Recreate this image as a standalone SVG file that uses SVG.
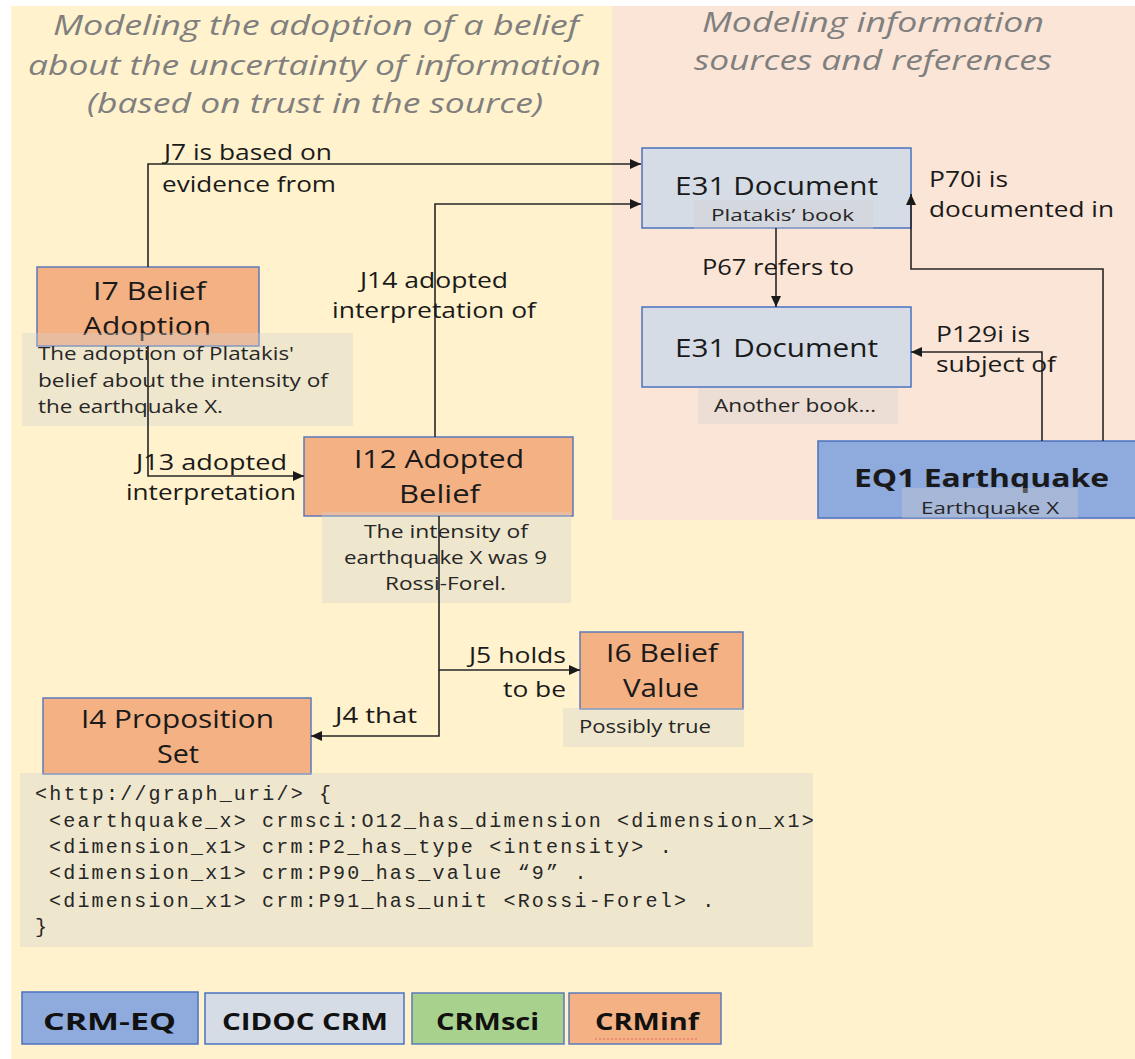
<svg xmlns="http://www.w3.org/2000/svg" width="1135" height="1059" viewBox="0 0 1135 1059">
<style>
text{font-family:"Open Sans","Liberation Sans",sans-serif;fill:#1a1a1a}
.title{font-style:italic;font-size:28px;fill:#7f7f7f}
.lbl{font-size:25px}
.elbl{font-size:22px}
.desc{font-size:18px;fill:#262626}
.sub{font-size:17px;fill:#262626}
.code{font-family:"Liberation Mono",monospace;font-size:20px;letter-spacing:2.2px;fill:#262626}
.leg{font-size:24px;font-weight:bold;fill:#111}
.inf{fill:#f4b183;stroke:#5b7abb;stroke-width:1.5}
.doc{fill:#d6dce5;stroke:#4a72c0;stroke-width:1.5}
.eq{fill:#8faadc;stroke:#4a72c0;stroke-width:1.5}
.sci{fill:#a9d18e;stroke:#5b7abb;stroke-width:1.5}
.ov{fill:#d0d0d0;fill-opacity:0.35}
.con{fill:none;stroke:#262626;stroke-width:1.6;marker-end:url(#arr)}
</style>
<defs>
<marker id="arr" markerUnits="userSpaceOnUse" markerWidth="11" markerHeight="10" refX="11" refY="5" orient="auto">
<path d="M0,0 L11,5 L0,10 z" fill="#1a1a1a"/>
</marker>
</defs>
<rect x="11" y="6" width="1124" height="1053" fill="#fff2cc"/>
<rect x="612" y="6" width="523" height="514" fill="#fbe5d6"/>

<g id="titles">
<text class="title" x="53" y="35" textLength="526" lengthAdjust="spacingAndGlyphs">Modeling the adoption of a belief</text>
<text class="title" x="28" y="75" textLength="573" lengthAdjust="spacingAndGlyphs">about the uncertainty of information</text>
<text class="title" x="87" y="113" textLength="456" lengthAdjust="spacingAndGlyphs">(based on trust in the source)</text>
<text class="title" x="702" y="32" textLength="342" lengthAdjust="spacingAndGlyphs">Modeling information</text>
<text class="title" x="694" y="70" textLength="358" lengthAdjust="spacingAndGlyphs">sources and references</text>
</g>

<g id="e31-platakis">
<rect class="doc" x="642" y="148" width="269" height="80"/>
<text class="lbl" x="675" y="195" font-size="24" textLength="203" lengthAdjust="spacingAndGlyphs">E31 Document</text>
<rect class="ov" x="694" y="200" width="179" height="29"/>
<text class="sub" x="711" y="221" textLength="143" lengthAdjust="spacingAndGlyphs">Platakis’ book</text>
</g>

<g id="e31-another">
<rect class="doc" x="642" y="307" width="269" height="80"/>
<text class="lbl" x="675" y="357" font-size="24" textLength="203" lengthAdjust="spacingAndGlyphs">E31 Document</text>
<rect class="ov" x="698" y="388" width="200" height="36"/>
<text class="desc" x="714" y="412" textLength="162" lengthAdjust="spacingAndGlyphs">Another book…</text>
</g>

<g id="eq1">
<rect class="eq" x="818" y="441" width="330" height="77"/>
<text class="lbl" x="854" y="487" font-weight="bold" textLength="255" lengthAdjust="spacingAndGlyphs">EQ1 Earthquake</text>
<rect class="ov" x="902" y="488" width="176" height="30"/>
<text class="sub" x="921" y="514" textLength="138" lengthAdjust="spacingAndGlyphs">Earthquake X</text>
</g>

<g id="i7">
<rect class="inf" x="37" y="267" width="222" height="79"/>
<text class="lbl" x="93" y="300" textLength="113" lengthAdjust="spacingAndGlyphs">I7 Belief</text>
<text class="lbl" x="83" y="335" textLength="128" lengthAdjust="spacingAndGlyphs">Adoption</text>
<rect class="ov" x="22" y="333" width="331" height="93"/>
<text class="desc" x="38" y="360" textLength="256" lengthAdjust="spacingAndGlyphs">The adoption of Platakis'</text>
<text class="desc" x="38" y="387" textLength="290" lengthAdjust="spacingAndGlyphs">belief about the intensity of</text>
<text class="desc" x="38" y="413" textLength="185" lengthAdjust="spacingAndGlyphs">the earthquake X.</text>
</g>

<g id="i12">
<rect class="inf" x="304" y="437" width="269" height="79"/>
<text class="lbl" x="354" y="468" textLength="170" lengthAdjust="spacingAndGlyphs">I12 Adopted</text>
<text class="lbl" x="399" y="503" textLength="81" lengthAdjust="spacingAndGlyphs">Belief</text>
<rect class="ov" x="322" y="512" width="249" height="91"/>
<text class="desc" x="364" y="538" textLength="164" lengthAdjust="spacingAndGlyphs">The intensity of</text>
<text class="desc" x="344" y="564" textLength="203" lengthAdjust="spacingAndGlyphs">earthquake X was 9</text>
<text class="desc" x="385" y="590" textLength="121" lengthAdjust="spacingAndGlyphs">Rossi-Forel.</text>
</g>

<g id="i6">
<rect class="inf" x="580" y="632" width="163" height="77"/>
<text class="lbl" x="606" y="662" textLength="112" lengthAdjust="spacingAndGlyphs">I6 Belief</text>
<text class="lbl" x="623" y="697" textLength="76" lengthAdjust="spacingAndGlyphs">Value</text>
<rect class="ov" x="563" y="708" width="181" height="39"/>
<text class="desc" x="579" y="733" textLength="132" lengthAdjust="spacingAndGlyphs">Possibly true</text>
</g>

<g id="i4">
<rect class="inf" x="43" y="698" width="268" height="76"/>
<text class="lbl" x="81" y="728" textLength="193" lengthAdjust="spacingAndGlyphs">I4 Proposition</text>
<text class="lbl" x="157" y="763" textLength="42" lengthAdjust="spacingAndGlyphs">Set</text>
<rect class="ov" x="20" y="773" width="793" height="174"/>
<text class="code" x="35" y="800">&lt;http://graph_uri/&gt; {</text>
<text class="code" x="49" y="827">&lt;earthquake_x&gt; crmsci:O12_has_dimension &lt;dimension_x1&gt;</text>
<text class="code" x="49" y="853">&lt;dimension_x1&gt; crm:P2_has_type &lt;intensity&gt; .</text>
<text class="code" x="49" y="879">&lt;dimension_x1&gt; crm:P90_has_value “9” .</text>
<text class="code" x="49" y="907">&lt;dimension_x1&gt; crm:P91_has_unit &lt;Rossi-Forel&gt; .</text>
<text class="code" x="35" y="933">}</text>
</g>

<g id="connectors">
<path class="con" d="M148,267 V164 H641"/>
<path class="con" d="M435,437 V204 H641"/>
<path class="con" d="M148,346 V476 H304"/>
<path class="con" d="M776,228 V307"/>
<path class="con" d="M1103,441 V269 H911 V194"/>
<path class="con" d="M1042,441 V352 H911"/>
<path class="con" d="M439,516 V670 H580"/>
<path class="con" d="M439,670 V736 H311"/>
<text class="elbl" x="164" y="160" textLength="168" lengthAdjust="spacingAndGlyphs">J7 is based on</text>
<text class="elbl" x="162" y="192" textLength="174" lengthAdjust="spacingAndGlyphs">evidence from</text>
<text class="elbl" x="360" y="288" textLength="148" lengthAdjust="spacingAndGlyphs">J14 adopted</text>
<text class="elbl" x="332" y="318" textLength="204" lengthAdjust="spacingAndGlyphs">interpretation of</text>
<text class="elbl" x="136" y="470" textLength="151" lengthAdjust="spacingAndGlyphs">J13 adopted</text>
<text class="elbl" x="126" y="500" textLength="170" lengthAdjust="spacingAndGlyphs">interpretation</text>
<text class="elbl" x="702" y="275" textLength="152" lengthAdjust="spacingAndGlyphs">P67 refers to</text>
<text class="elbl" x="929" y="187" textLength="79" lengthAdjust="spacingAndGlyphs">P70i is</text>
<text class="elbl" x="929" y="217" textLength="185" lengthAdjust="spacingAndGlyphs">documented in</text>
<text class="elbl" x="936" y="342" textLength="94" lengthAdjust="spacingAndGlyphs">P129i is</text>
<text class="elbl" x="936" y="372" textLength="120" lengthAdjust="spacingAndGlyphs">subject of</text>
<text class="elbl" x="469" y="663" textLength="97" lengthAdjust="spacingAndGlyphs">J5 holds</text>
<text class="elbl" x="503" y="697" textLength="63" lengthAdjust="spacingAndGlyphs">to be</text>
<text class="elbl" x="335" y="723" textLength="82" lengthAdjust="spacingAndGlyphs">J4 that</text>
</g>

<g id="legend">
<g id="leg-crm-eq"><rect class="eq" x="22" y="992" width="176" height="52"/>
<text class="leg" x="43" y="1030" textLength="133" lengthAdjust="spacingAndGlyphs">CRM-EQ</text></g>
<g id="leg-cidoc"><rect class="doc" x="205" y="993" width="199" height="51"/>
<text class="leg" x="222" y="1030" textLength="166" lengthAdjust="spacingAndGlyphs">CIDOC CRM</text></g>
<g id="leg-sci"><rect class="sci" x="412" y="993" width="152" height="51"/>
<text class="leg" x="436" y="1030" textLength="103" lengthAdjust="spacingAndGlyphs">CRMsci</text></g>
<g id="leg-inf"><rect class="inf" x="569" y="993" width="152" height="51"/>
<text class="leg" x="595" y="1030" textLength="104" lengthAdjust="spacingAndGlyphs">CRMinf</text>
<path d="M595,1039 H699" stroke="#e06666" stroke-width="1" stroke-dasharray="2,2" fill="none"/></g>
</g>
</svg>
